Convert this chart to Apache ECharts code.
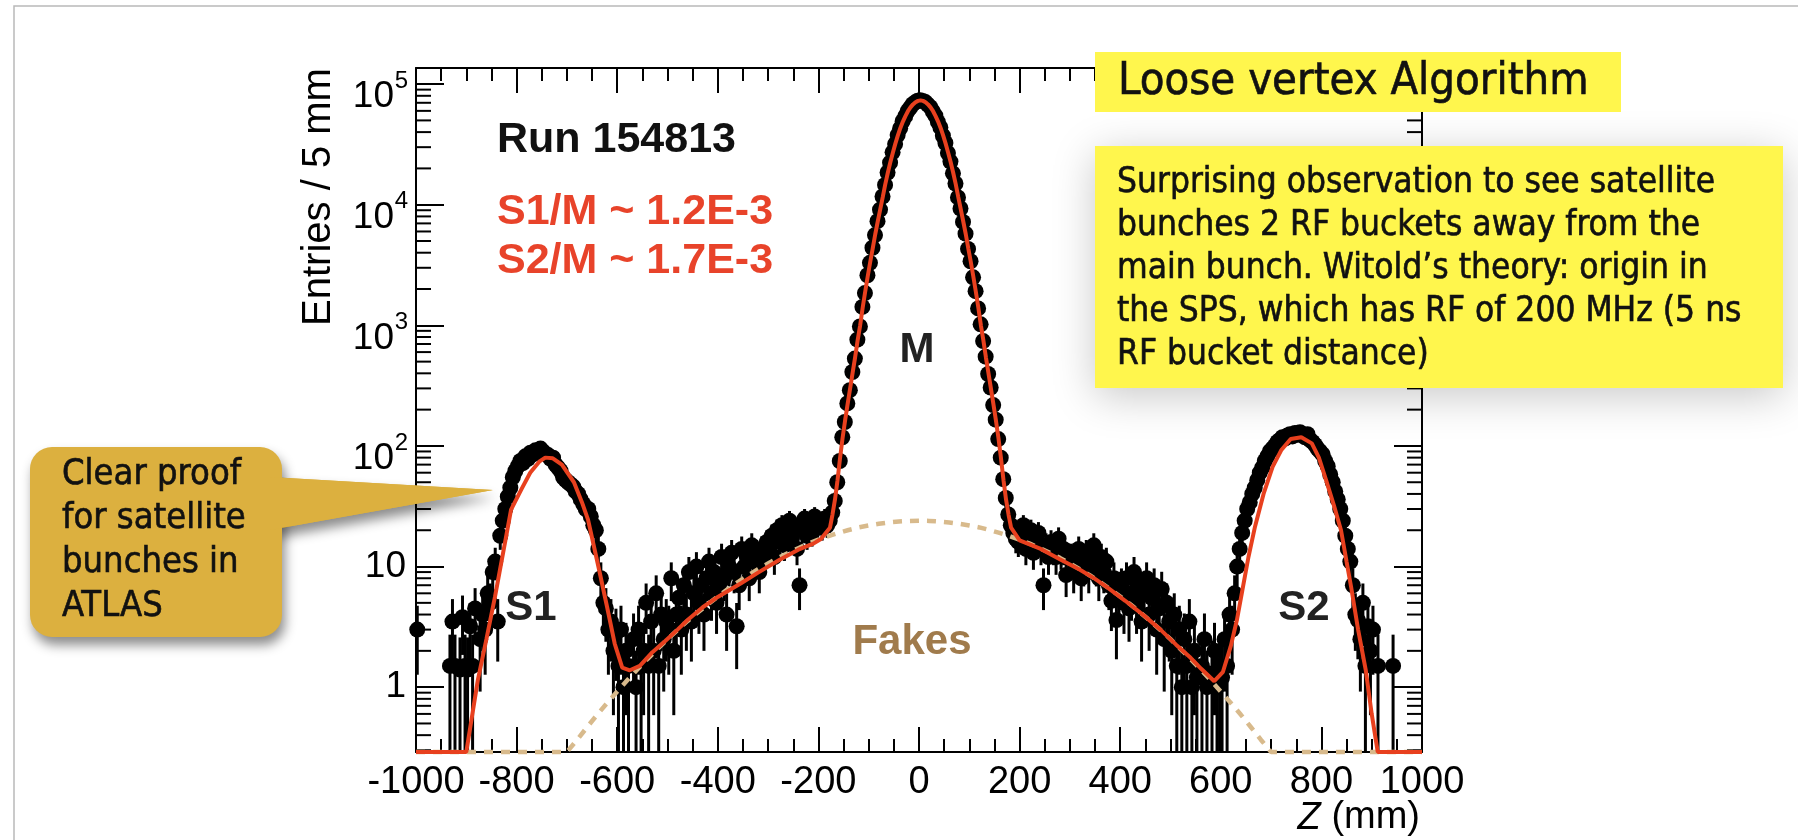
<!DOCTYPE html>
<html><head><meta charset="utf-8">
<script src="https://cdn.jsdelivr.net/npm/echarts@6/dist/echarts.min.js"></script>
<style>html,body{margin:0;padding:0;background:#fff}#c{width:1798px;height:840px}</style>
</head><body><div id="c"></div>
<script>
// ---- histogram binning (Entries / 5 mm) ----
const BIN_START = -1000;
const BIN_WIDTH = 5;
// counts per 5 mm bin (null = empty bin)
const counts = [
 3,null,null,null,null,null,null,null,null,null,null,null,null,1.5,3.5,1.5,null,1.4,3.8,1.5,
 1.4,3.2,1.5,4.5,null,2.5,4,3,6,5,9,11,3.5,18,24,30,38,45,55,62,
 68,75,72,82,78,88,85,92,88,95,90,86,84,78,80,70,66,62,55,52,
 50,48,46,42,40,36,33,30,30,26,22,20,14,8,5,4.5,3,3.5,2,2.8,
 1.5,3,1,2,1.5,null,2.5,1,3,1.5,2,5,1.5,3.5,2,6,1.5,4,2.5,3.5,
 3,8,2,4,5.5,3,7,4,9,3.5,6,10,5,7,4,8,11,6,9,5,
 7,12,8,4,10,13,9,3.2,7,14,10,12,8,15,11,13,9,14,12,16,
 14,18,12,20,16,22,15,19,24,17,21,14,7,20,25,18,22,19,26,21,
 23,21,25,22,24,28,35,50,75,118,158,225,290,410,530,760,980,1420,1850,2600,
 3300,4400,5600,7300,9100,11700,14600,18500,22300,27200,31800,37800,43000,49200,54000,59800,63800,68200,70600,72800,
 73400,72500,71000,67600,64400,59300,54800,48600,43700,37300,32500,26800,22800,18200,15000,11500,9300,7200,5750,4300,
 3400,2500,1920,1380,1020,740,550,395,305,218,165,114,80,53,37,27,22,19,17,16,
 18,22,14,17,20,13,16,19,14,7,15,12,16,14,12,17,13,14,8.5,12,
 12,9,11,14,8,10,13,9,12,15,10,8,12,9,11,7,5.2,8,3.6,6.5,
 7,5,8,4.5,6,9,5,7,3.5,6,8,4,5.5,7,3,4.5,6.5,2.5,5,3.5,
 2,4,1.5,3,1,2.5,1.5,3.5,1,2,1.2,null,1.5,2.5,1,null,1.3,2,1,1.5,
 1.2,2.5,1.5,4,3,6,10,14,19,24,30,34,40,45,52,60,66,75,82,90,
 95,100,108,112,118,115,122,125,120,128,124,130,122,118,125,112,108,102,95,90,
 85,75,68,58,50,42,36,30,24,18,14,11,7,4,3.6,2.5,5,1.5,3.2,2,
 3,null,1.5,null,null,null,null,null,1.5,null,null,null,null,null,null,null,null,null,null,null
];

// total fit (red line)
const fitZ = [-1000,-900,-877,-860,-843,-825,-811,-790,-773,-755,-743,-728,-710,-686,-670,-658,-645,-636,-620,-605,-590,-575,-555,-530,-505,-480,-460,-430,-400,-353,-320,-277,-240,-210,-195,
 -177,-172,-167,-162,-157,-152,-147,-142,-137,-132,-127,-122,-117,-112,-107,-102,-97,-92,-87,-82,-77,-72,-67,-62,-57,-52,-47,-42,-37,-32,-27,-22,-17,-12,-7,-2,
 3,8,13,18,23,28,33,38,43,48,53,58,63,68,73,78,83,88,93,98,103,108,113,118,123,128,133,138,143,148,153,158,163,168,173,178,183,
 200,242,280,320,350,377,410,448,480,511,540,561,587,604,620,632,643,655,668,685,703,720,739,760,781,795,809,825,839,850,859,873,888,900,912,1000];
const fitV = [0.29,0.29,1.15,2.5,5.6,14.3,29.6,44,60,74,80,79,70,50,34,24.5,13.9,9.4,4.6,2.3,1.45,1.38,1.5,1.95,2.4,3.0,3.6,4.6,5.6,7.3,8.9,11.4,13.8,15.5,16.9,
 21,27,36,52,79,116,162,221,299,403,543,750,1000,1400,1900,2540,3350,4350,5690,7260,9200,11600,14800,18400,22500,27000,32100,37600,43300,48900,54300,59600,64100,67900,70800,72600,
 73300,72600,70800,67900,64100,59600,54300,48900,43300,37600,32100,27000,22500,18400,14800,11600,9200,7260,5690,4350,3350,2540,1900,1400,1000,750,543,403,299,221,162,116,79,52,36,27,21,
 16.5,14,11.5,9.4,7.9,6.6,5.2,3.9,3.0,2.25,1.75,1.42,1.12,1.33,2.2,3.6,6.4,12,21.4,40,67,92,114,118,105,80,52.5,32,20,11,6.8,3,1.4,0.6,0.29,0.29];

// fakes component (dashed)
const fakesZ = [-1000,-720,-700,-680,-660,-640,-620,-600,-580,-560,-540,-520,-500,-480,-460,-440,-420,-400,-380,-360,-340,-320,-300,-280,-260,-240,-220,-200,-180,-160,-140,-120,-100,-80,-60,-40,-20,
 0,20,40,60,80,100,120,140,160,180,200,220,240,260,280,300,320,340,360,380,400,420,440,460,480,500,520,540,560,580,600,620,640,660,680,700,720,1000];
const fakesV = [0.29,0.29,0.29,0.365,0.465,0.59,0.74,0.92,1.14,1.40,1.71,2.07,2.50,2.98,3.54,4.16,4.86,5.64,6.50,7.43,8.43,9.50,10.6,11.8,13.0,14.2,15.5,16.7,17.9,19.0,20.1,21.1,21.9,22.6,23.2,23.6,23.9,
 24,23.9,23.6,23.2,22.6,21.9,21.1,20.1,19.0,17.9,16.7,15.5,14.2,13.0,11.8,10.6,9.50,8.43,7.43,6.50,5.64,4.86,4.16,3.54,2.98,2.50,2.07,1.71,1.40,1.14,0.92,0.74,0.59,0.465,0.365,0.29,0.29,0.29];

// axes
const X_MIN = -1000, X_MAX = 1000;
const Y_MIN = 0.29, Y_MAX = 1.36e5;
const xTickValues = [-1000,-800,-600,-400,-200,0,200,400,600,800,1000];
const xTickLabels = ['-1000','-800','-600','-400','-200','0','200','400','600','800','1000'];
const yTickValues = [1,10,100,1000,10000,100000];
const yTickBase = ['1','10','10','10','10','10'];
const yTickExp  = ['','','2','3','4','5'];

// ---- build series data ----
const points = [];
counts.forEach((c, i) => { if (c !== null) points.push([BIN_START + BIN_WIDTH * (i + 0.5), c]); });
const fitData = fitZ.map((z, i) => [z, fitV[i]]);
const fakesData = fakesZ.map((z, i) => [z, fakesV[i]]);
const yLabelData = yTickValues.map((v, i) => [X_MIN, v, i]);
const minorY = [];
for (let e = -1; e <= 5; e++) for (let m = 2; m <= 9; m++) {
  const v = m * Math.pow(10, e);
  if (v > Y_MIN && v < Y_MAX) minorY.push([X_MIN, v]);
}

const F = '"Liberation Sans", Arial, sans-serif';
const BOXF = '"DejaVu Sans Condensed", "DejaVu Sans", sans-serif';

function xLab(v){ const i = xTickValues.indexOf(Math.round(v)); return i >= 0 ? xTickLabels[i] : ''; }
const blk = '#000';
const yAxisCommon = {
  type: 'log', logBase: 10, min: Y_MIN, max: Y_MAX,
  axisLine: {show: true, onZero: false, lineStyle: {color: blk, width: 2}},
  axisTick: {show: true, inside: true, length: 28, lineStyle: {color: blk, width: 2}},
  splitLine: {show: false}, axisLabel: {show: false}
};
const xAxisCommon = {
  type: 'value', min: X_MIN, max: X_MAX, interval: 200,
  axisLine: {onZero: false, lineStyle: {color: blk, width: 2}},
  axisTick: {inside: true, length: 25, lineStyle: {color: blk, width: 2}},
  minorTick: {show: true, splitNumber: 4, length: 13, lineStyle: {color: blk, width: 2}},
  splitLine: {show: false}
};
const chart = echarts.init(document.getElementById('c'), null, {renderer: 'canvas'});
chart.setOption({
  animation: false,
  backgroundColor: '#fff',
  grid: {left: 416, right: 376, top: 68, bottom: 88, containLabel: false},
  xAxis: [
    Object.assign({}, xAxisCommon, {position: 'bottom',
      axisLabel: {fontSize: 38, fontFamily: F, color: blk, margin: 12, formatter: xLab, hideOverlap: false}}),
    Object.assign({}, xAxisCommon, {position: 'top', axisLabel: {show: false}})
  ],
  yAxis: [
    Object.assign({}, yAxisCommon, {position: 'left'}),
    Object.assign({}, yAxisCommon, {position: 'right'})
  ],
  series: [
    { // y tick labels (10 with superscript exponent), placed through the log scale
      type: 'custom', silent: true, data: yLabelData, z: 3, clip: false,
      renderItem: function(params, api){
        const v = api.value(1), i = api.value(2);
        const p = api.coord([X_MIN, v]);
        const exp = yTickExp[i];
        if (!exp) {
          return {type: 'text', x: p[0] - 10, y: p[1], style: {text: yTickBase[i], font: '37px ' + F, fill: blk, textAlign: 'right', textVerticalAlign: 'middle'}};
        }
        return {type: 'group', children: [
          {type: 'text', x: p[0] - 22, y: p[1] + 13, style: {text: yTickBase[i], font: '37px ' + F, fill: blk, textAlign: 'right', textVerticalAlign: 'middle'}},
          {type: 'text', x: p[0] - 8, y: p[1] - 3, style: {text: exp, font: '24px ' + F, fill: blk, textAlign: 'right', textVerticalAlign: 'middle'}}
        ]};
      }
    },
    { // minor log ticks on left and right frame
      type: 'custom', silent: true, data: minorY, z: 3, clip: false,
      renderItem: function(params, api){
        const v = api.value(1);
        const pL = api.coord([X_MIN, v]);
        const pR = api.coord([X_MAX, v]);
        return {type: 'group', children: [
          {type: 'line', shape: {x1: pL[0], y1: pL[1], x2: pL[0] + 15, y2: pL[1]}, style: {stroke: blk, lineWidth: 2}},
          {type: 'line', shape: {x1: pR[0], y1: pR[1], x2: pR[0] - 15, y2: pR[1]}, style: {stroke: blk, lineWidth: 2}}
        ]};
      }
    },
    { // Poisson error bars
      type: 'custom', silent: true, data: points, z: 4,
      renderItem: function(params, api){
        const z = api.value(0), v = api.value(1);
        const e = Math.sqrt(v);
        const lo = Math.max(v - e, Y_MIN);
        const hi = Math.min(v + e, Y_MAX);
        const p0 = api.coord([z, lo]), p1 = api.coord([z, hi]);
        return {type: 'line', shape: {x1: p0[0], y1: p0[1], x2: p1[0], y2: p1[1]}, style: {stroke: blk, lineWidth: 3}};
      }
    },
    {
      type: 'scatter', data: points, symbol: 'circle', symbolSize: 16, z: 5, silent: true,
      itemStyle: {color: blk, opacity: 1}
    },
    {
      type: 'line', data: fakesData, showSymbol: false, symbol: 'none', clip: false, z: 6, silent: true,
      lineStyle: {color: '#d8ba8c', width: 4.5, type: [9, 8]}
    },
    {
      type: 'line', data: fitData, showSymbol: false, symbol: 'none', clip: false, z: 7, silent: true,
      lineStyle: {color: '#e8401e', width: 4}
    }
  ],
  graphic: [
    {type: 'rect', silent: true, z: 1, shape: {x: 14, y: 6, width: 1800, height: 850}, style: {fill: 'none', stroke: '#b9b9b9', lineWidth: 1.5}},
    {type: 'text', silent: true, x: 319, y: 197, rotation: Math.PI / 2, style: {text: 'Entries / 5 mm', font: '40px ' + F, fill: blk, textAlign: 'center', textVerticalAlign: 'middle'}},
    {type: 'text', silent: true, x: 1420, y: 818, style: {text: '{i|Z} (mm)', rich: {i: {font: 'italic 38px ' + F, fill: blk}}, font: '38px ' + F, fill: blk, textAlign: 'right', textVerticalAlign: 'middle'}},
    {type: 'text', silent: true, x: 497, y: 140, style: {text: 'Run 154813', font: 'bold 43px ' + F, fill: '#111', textAlign: 'left', textVerticalAlign: 'middle'}},
    {type: 'text', silent: true, x: 497, y: 212, style: {text: 'S1/M ~ 1.2E-3', font: 'bold 43px ' + F, fill: '#e8432a', textAlign: 'left', textVerticalAlign: 'middle'}},
    {type: 'text', silent: true, x: 497, y: 261, style: {text: 'S2/M ~ 1.7E-3', font: 'bold 43px ' + F, fill: '#e8432a', textAlign: 'left', textVerticalAlign: 'middle'}},
    {type: 'text', silent: true, z: 20, x: 917, y: 350, style: {text: 'M', font: 'bold 42px ' + F, fill: '#222', textAlign: 'center', textVerticalAlign: 'middle'}},
    {type: 'text', silent: true, z: 20, x: 531, y: 608, style: {text: 'S1', font: 'bold 42px ' + F, fill: '#222', textAlign: 'center', textVerticalAlign: 'middle'}},
    {type: 'text', silent: true, z: 20, x: 1304, y: 608, style: {text: 'S2', font: 'bold 42px ' + F, fill: '#222', textAlign: 'center', textVerticalAlign: 'middle'}},
    {type: 'text', silent: true, z: 20, x: 912, y: 642, style: {text: 'Fakes', font: 'bold 42px ' + F, fill: '#a07b4c', textAlign: 'center', textVerticalAlign: 'middle'}},
    // yellow boxes
    {type: 'rect', silent: true, z: 50, shape: {x: 1095, y: 146, width: 688, height: 242}, style: {fill: '#fff64d', shadowBlur: 40, shadowOffsetY: 8, shadowColor: 'rgba(0,0,0,0.22)'}},
    {type: 'rect', silent: true, z: 51, shape: {x: 1095, y: 52, width: 526, height: 60}, style: {fill: '#fff64d'}},
    {type: 'text', silent: true, z: 52, x: 1118, y: 82, style: {text: 'Loose vertex Algorithm', font: '45px ' + BOXF, fill: '#111', stroke: '#111', lineWidth: 0.6, textAlign: 'left', textVerticalAlign: 'middle'}},
    {type: 'text', silent: true, z: 52, x: 1117, y: 161, style: {text: 'Surprising observation to see satellite\nbunches 2 RF buckets away from the\nmain bunch. Witold\u2019s theory: origin in\nthe SPS, which has RF of 200 MHz (5 ns\nRF bucket distance)', font: '35px ' + BOXF, lineHeight: 43, fill: '#111', stroke: '#111', lineWidth: 0.6, textAlign: 'left', textVerticalAlign: 'top'}},
    // gold callout
    {type: 'polygon', silent: true, z: 50, shape: {points: [[270, 477], [493, 490], [270, 530]]}, style: {fill: '#dcb03f', shadowBlur: 12, shadowOffsetX: 3, shadowOffsetY: 8, shadowColor: 'rgba(0,0,0,0.45)'}},
    {type: 'rect', silent: true, z: 51, shape: {x: 30, y: 447, width: 252, height: 190, r: 22}, style: {fill: '#dcb03f', shadowBlur: 12, shadowOffsetX: 3, shadowOffsetY: 8, shadowColor: 'rgba(0,0,0,0.45)'}},
    {type: 'polygon', silent: true, z: 52, shape: {points: [[270, 477], [493, 490], [270, 530]]}, style: {fill: '#dcb03f'}},
    {type: 'text', silent: true, z: 53, x: 62, y: 453, style: {text: 'Clear proof\nfor satellite\nbunches in\nATLAS', font: '36px ' + BOXF, lineHeight: 44, fill: '#111', stroke: '#111', lineWidth: 0.6, textAlign: 'left', textVerticalAlign: 'top'}}
  ]
});
</script></body></html>
